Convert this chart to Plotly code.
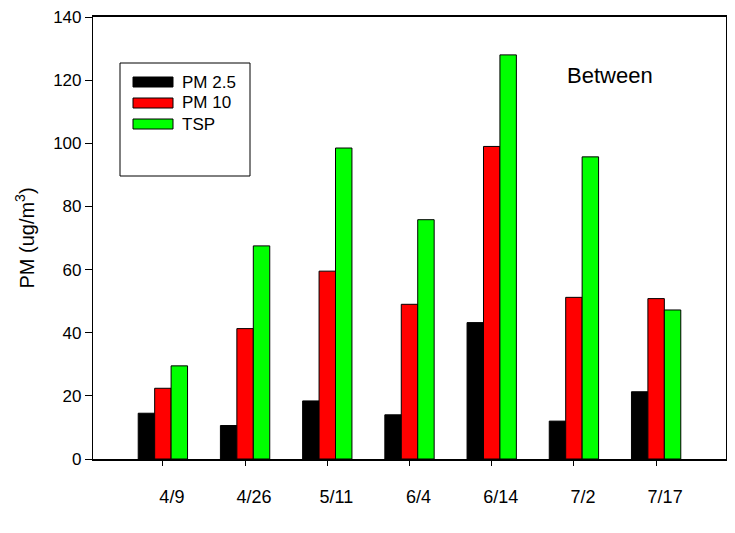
import plotly.graph_objects as go

# Sampling dates and particulate concentrations (ug/m3)
dates = ["4/9", "4/26", "5/11", "6/4", "6/14", "7/2", "7/17"]
pm25 = [14.5, 10.6, 18.4, 14.0, 43.2, 12.0, 21.3]
pm10 = [22.4, 41.3, 59.5, 49.0, 99.0, 51.2, 50.8]
tsp = [29.5, 67.5, 98.5, 75.8, 128.0, 95.7, 47.2]

series_names = ["PM 2.5", "PM 10", "TSP"]
series_colors = ["#000000", "#FF0000", "#00FF00"]
series_values = [pm25, pm10, tsp]

W, H = 735, 533
ML, MR, MT, MB = 93, 9, 17, 74
PW, PH = W - ML - MR, H - MT - MB

FONT = "Liberation Sans, Arial, sans-serif"

fig = go.Figure()
for name, color, vals in zip(series_names, series_colors, series_values):
    fig.add_trace(go.Bar(
        x=list(range(len(dates))), y=vals, name=name,
        marker=dict(color=color, line=dict(color="#000000", width=1)),
        showlegend=False,
    ))


def px_x(p):
    return (p - ML) / PW


def px_y(p):
    return (H - MB - p) / PH


# Legend box drawn by hand with wide swatches
shapes = [dict(type="rect", xref="paper", yref="paper",
               x0=px_x(120), x1=px_x(250), y0=px_y(176), y1=px_y(63),
               line=dict(color="#000000", width=1), fillcolor="white", layer="above")]
annotations = []
row_y = [82, 103, 124]
for name, color, py in zip(series_names, series_colors, row_y):
    shapes.append(dict(type="rect", xref="paper", yref="paper",
                       x0=px_x(133), x1=px_x(173), y0=px_y(py + 5), y1=px_y(py - 5),
                       line=dict(color="#000000", width=1), fillcolor=color, layer="above"))
    annotations.append(dict(xref="paper", yref="paper", x=px_x(180), y=px_y(py),
                            text=name, showarrow=False, xanchor="left", yanchor="middle",
                            font=dict(family=FONT, size=17, color="#000000")))

annotations.append(dict(xref="paper", yref="paper", x=px_x(610), y=px_y(75),
                        text="Between", showarrow=False, xanchor="center", yanchor="middle",
                        font=dict(family=FONT, size=22, color="#000000")))

fig.update_layout(
    width=W, height=H,
    margin=dict(l=ML, r=MR, t=MT, b=MB, pad=0),
    paper_bgcolor="white", plot_bgcolor="white",
    barmode="group", bargap=0.4, bargroupgap=0.0,
    font=dict(family=FONT, size=16, color="#000000"),
    shapes=shapes, annotations=annotations,
    xaxis=dict(
        range=[-0.85, 6.85], tickmode="array",
        tickvals=list(range(len(dates))), ticktext=dates,
        ticks="outside", ticklen=5, tickwidth=1, tickcolor="#000000",
        showline=True, linecolor="#000000", linewidth=1.5, mirror=True,
        showgrid=False, zeroline=False,
        tickfont=dict(family=FONT, size=18, color="#000000"),
        ticklabelstandoff=16, ticklabelshift=9,
    ),
    yaxis=dict(
        range=[0, 140], tickmode="array", tickvals=list(range(0, 141, 20)),
        ticks="outside", ticklen=7, tickwidth=1, tickcolor="#000000",
        showline=True, linecolor="#000000", linewidth=1.2, mirror=True,
        showgrid=False, zeroline=False,
        tickfont=dict(family=FONT, size=17, color="#000000"),
        title=dict(text="PM (ug/m<sup>3</sup>)", standoff=13,
                   font=dict(family=FONT, size=20, color="#000000")),
    ),
)

fig.write_html("out.html")
